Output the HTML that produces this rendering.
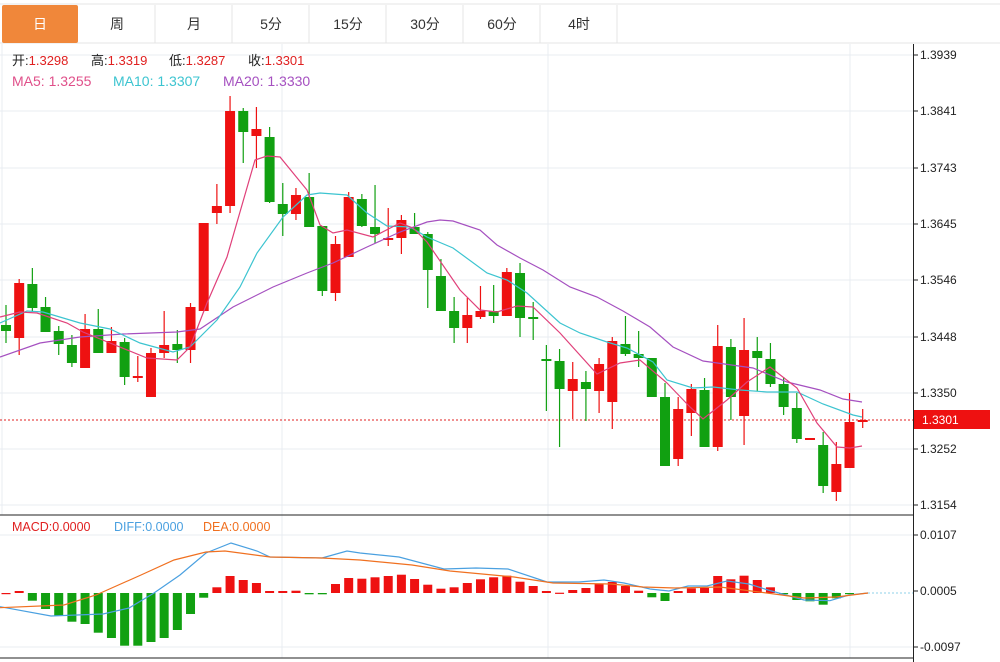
<!DOCTYPE html>
<html><head><meta charset="utf-8">
<style>
body{margin:0;background:#fff;font-family:"Liberation Sans","Noto Sans CJK SC",sans-serif;}
#w{position:relative;width:1000px;height:662px;overflow:hidden;}
</style></head><body><div id="w">
<svg id="s" width="1000" height="662" xmlns="http://www.w3.org/2000/svg" font-family="Liberation Sans, Noto Sans CJK SC, sans-serif">
<rect width="1000" height="662" fill="#fff"/>
<line x1="0" y1="4" x2="1000" y2="4" stroke="#e4e4e4"/>
<line x1="0" y1="43" x2="1000" y2="43" stroke="#e4e4e4"/>
<rect x="2" y="5" width="76" height="38" rx="2" fill="#f0873a"/>
<g stroke="#e4e4e4"><line x1="155" y1="5" x2="155" y2="43"/><line x1="232" y1="5" x2="232" y2="43"/><line x1="309" y1="5" x2="309" y2="43"/><line x1="386" y1="5" x2="386" y2="43"/><line x1="463" y1="5" x2="463" y2="43"/><line x1="540" y1="5" x2="540" y2="43"/><line x1="617" y1="5" x2="617" y2="43"/></g>
<g font-size="14" text-anchor="middle" fill="#333">
<text x="40" y="29" fill="#fff">日</text><text x="117" y="29">周</text><text x="194" y="29">月</text><text x="271" y="29">5分</text><text x="348" y="29">15分</text><text x="425" y="29">30分</text><text x="502" y="29">60分</text><text x="579" y="29">4时</text>
</g>
<g stroke="#e8ecf2" stroke-width="1">
<line x1="0" y1="55" x2="913" y2="55"/><line x1="0" y1="111" x2="913" y2="111"/><line x1="0" y1="168" x2="913" y2="168"/><line x1="0" y1="224" x2="913" y2="224"/><line x1="0" y1="280" x2="913" y2="280"/><line x1="0" y1="337" x2="913" y2="337"/><line x1="0" y1="393" x2="913" y2="393"/><line x1="0" y1="449" x2="913" y2="449"/><line x1="0" y1="505" x2="913" y2="505"/>
<line x1="0" y1="535" x2="913" y2="535"/><line x1="0" y1="647" x2="913" y2="647"/>
<line x1="282" y1="44" x2="282" y2="658"/><line x1="548" y1="44" x2="548" y2="658"/><line x1="850" y1="44" x2="850" y2="658"/>
</g>
<line x1="2" y1="44" x2="2" y2="515" stroke="#e8ecf2"/>
<line x1="0" y1="515" x2="913" y2="515" stroke="#222"/>
<line x1="0" y1="658" x2="913" y2="658" stroke="#222"/>
<line x1="913.5" y1="44" x2="913.5" y2="662" stroke="#222"/>
<g id="ticks" stroke="#222"></g>
<g font-size="12" fill="#222">
<text x="920" y="59">1.3939</text><text x="920" y="115">1.3841</text><text x="920" y="172">1.3743</text><text x="920" y="228">1.3645</text><text x="920" y="284">1.3546</text><text x="920" y="341">1.3448</text><text x="920" y="397">1.3350</text><text x="920" y="453">1.3252</text><text x="920" y="509">1.3154</text>
<text x="920" y="539">0.0107</text><text x="920" y="595">0.0005</text><text x="920" y="651">-0.0097</text>
</g>
<line x1="0" y1="420" x2="913" y2="420" stroke="#e02020" stroke-dasharray="2,2"/>
<rect x="914" y="410" width="76" height="19" fill="#ee1111"/>
<text x="922" y="424" font-size="12" fill="#fff">1.3301</text>
<line x1="868" y1="593" x2="913" y2="593" stroke="#8fd0e8" stroke-dasharray="2,2"/>
<g id="c"></g>
<g font-size="13">
<text x="12" y="65" fill="#222">开:<tspan fill="#e02020">1.3298</tspan></text>
<text x="91" y="65" fill="#222">高:<tspan fill="#e02020">1.3319</tspan></text>
<text x="169" y="65" fill="#222">低:<tspan fill="#e02020">1.3287</tspan></text>
<text x="248" y="65" fill="#222">收:<tspan fill="#e02020">1.3301</tspan></text>
<text x="12" y="86" fill="#e0508a" font-size="14">MA5: 1.3255</text>
<text x="113" y="86" fill="#3cc4d0" font-size="14">MA10: 1.3307</text>
<text x="223" y="86" fill="#a550c0" font-size="14">MA20: 1.3330</text>
<text x="12" y="531" fill="#e02020" font-size="12.5">MACD:0.0000</text>
<text x="114" y="531" fill="#4aa0e0" font-size="12.5">DIFF:0.0000</text>
<text x="203" y="531" fill="#f07020" font-size="12.5">DEA:0.0000</text>
</g>
</svg>
<script>
var NS="http://www.w3.org/2000/svg",g=document.getElementById('c');
function el(t,a){var e=document.createElementNS(NS,t);for(var k in a)e.setAttribute(k,a[k]);g.appendChild(e);return e;}
var C=[["g",325,331,305,343],["r",283,338,279,355],["g",284,308,268,312],["g",307,332,297,332],["g",331,344,326,355],["g",345,363,335,367],["r",329,368,314,368],["g",329,353,309,353],["r",341,353,327,353],["g",342,377,338,385],["r",376,377,356,382],["r",353,397,348,397],["r",345,353,311,358],["g",344,350,330,363],["r",307,350,303,363],["r",223,311,223,311],["r",206,213,184,224],["r",111,206,96,213],["g",111,132,108,163],["r",129,136,107,168],["g",137,202,127,203],["g",204,214,183,236],["r",195,214,188,220],["g",197,227,173,227],["g",226,291,226,296],["r",244,293,236,301],["r",197,257,192,257],["g",199,226,194,227],["g",227,234,185,243],["r",238,240,208,246],["r",220,238,215,254],["g",227,234,213,234],["g",234,270,232,308],["g",276,311,259,311],["g",311,328,297,343],["r",315,328,298,343],["r",311,317,286,319],["g",311,316,285,323],["r",272,316,268,316],["g",273,318,263,337],["g",317,319,302,340],["g",359,361,345,411],["g",361,389,349,447],["r",379,391,362,419],["g",382,389,371,421],["r",364,391,358,413],["r",341,402,337,429],["g",344,354,316,356],["g",354,358,331,367],["g",358,397,358,397],["g",397,466,383,466],["r",409,459,397,466],["r",389,413,384,436],["g",390,447,378,447],["r",346,447,325,451],["g",347,397,339,420],["r",350,416,318,445],["g",351,358,337,391],["g",359,384,343,387],["g",384,407,377,415],["g",408,439,393,443],["r",438,439,438,439],["g",445,486,432,493],["r",464,492,442,501],["r",422,468,393,468],["r",420,422,409,428]];
function X(i){return 6+i*13.18;}
var col={r:"#ee1111",g:"#11a011"};
C.forEach(function(c,i){var x=X(i),f=col[c[0]];
el('line',{x1:x,y1:c[3],x2:x,y2:c[4],stroke:f,'stroke-width':1.2});
el('rect',{x:x-5,y:c[1],width:10,height:Math.max(2,c[2]-c[1]),fill:f});});
function pl(p,s){el('polyline',{points:p,fill:'none',stroke:s,'stroke-width':1.2});}
pl("0,357 40,343 80,337 123,334 177,332 200,329 233,307 273,287 307,273 333,263 367,247 400,232 427,222 440,220 453,221 480,230 497,245 520,258 543,270 570,287 597,297 623,311 650,327 673,347 703,361 753,368 787,382 820,390 843,399 862,402","#a550c0");
pl("0,323 27,311 43,312 80,323 110,329 140,343 173,352 190,347 217,320 240,287 257,253 283,217 307,195 320,193 347,195 367,213 387,226 410,227 427,237 453,248 487,273 507,280 527,293 560,323 580,333 607,342 627,348 653,362 667,380 693,388 713,387 740,390 767,392 797,392 823,404 853,415 862,417","#3cc4d0");
pl("0,317 20,312 37,313 67,323 83,332 110,343 147,358 177,360 190,347 207,303 227,257 255,160 267,156 280,157 307,190 320,225 333,233 347,230 373,237 400,223 413,228 427,242 460,290 480,310 497,312 517,306 533,307 560,333 597,374 620,363 640,360 667,383 690,407 703,419 727,400 747,382 770,367 797,388 817,423 837,447 850,448 862,446","#e0407a");
var H={0:593,1:591,2:600.7,3:609,4:616,5:621.7,6:624,7:632.7,8:638,9:645.7,10:645.7,11:642,12:638,13:630,14:614,15:597.7,16:587.3,17:576,18:580,19:583,20:591,21:591,22:590.7,23:594.3,24:594.3,25:584,26:578,27:578.7,28:577.3,29:576,30:574.7,31:579,32:584.7,33:588.7,34:587.3,35:583,36:579.3,37:577.3,38:575.7,39:581.7,40:586,41:591,42:592.7,43:590,44:588,45:584,46:582,47:586,48:590.7,49:597.3,50:601,51:591,52:588.3,53:588,54:576,55:579.3,56:575.7,57:580,58:587.3,59:594,60:600,61:601.3,62:604.7,63:598.3,64:594};
var Z=593;
for(var i in H){var y=H[i],x=X(+i);var gr=y>Z;var t=gr?Z:y,h=Math.max(1.2,Math.abs(y-Z));
el('rect',{x:x-4.5,y:t,width:9,height:h,fill:gr?"#11a011":"#ee1111"});}
pl("0,606.7 51,616 103,614 129,608 154,593 180,575 206,553 231,543 257,551 270,557 322,558 347,551 360,553 399,557 444,569 476,568 508,569 547,582 579,582 604,580 624,583 650,589 669,591 688,586 707,586 727,581 749,584 768,590 804,600 830,600.7 849,595 868,593","#4aa0e0");
pl("0,607.7 64,605 96,595 141,575 174,560 206,552 225,551 270,557 322,558 360,560 412,565 450,571 514,577 553,583 611,584 643,587 675,588 720,587 759,592 804,598 836,597 868,593","#f07020");
var tk=document.getElementById('ticks');
[55,111,168,224,280,337,393,449,505,535,591,647].forEach(function(y){var l=document.createElementNS(NS,'line');l.setAttribute('x1',913);l.setAttribute('x2',918);l.setAttribute('y1',y);l.setAttribute('y2',y);tk.appendChild(l);});
</script>
</div></body></html>
